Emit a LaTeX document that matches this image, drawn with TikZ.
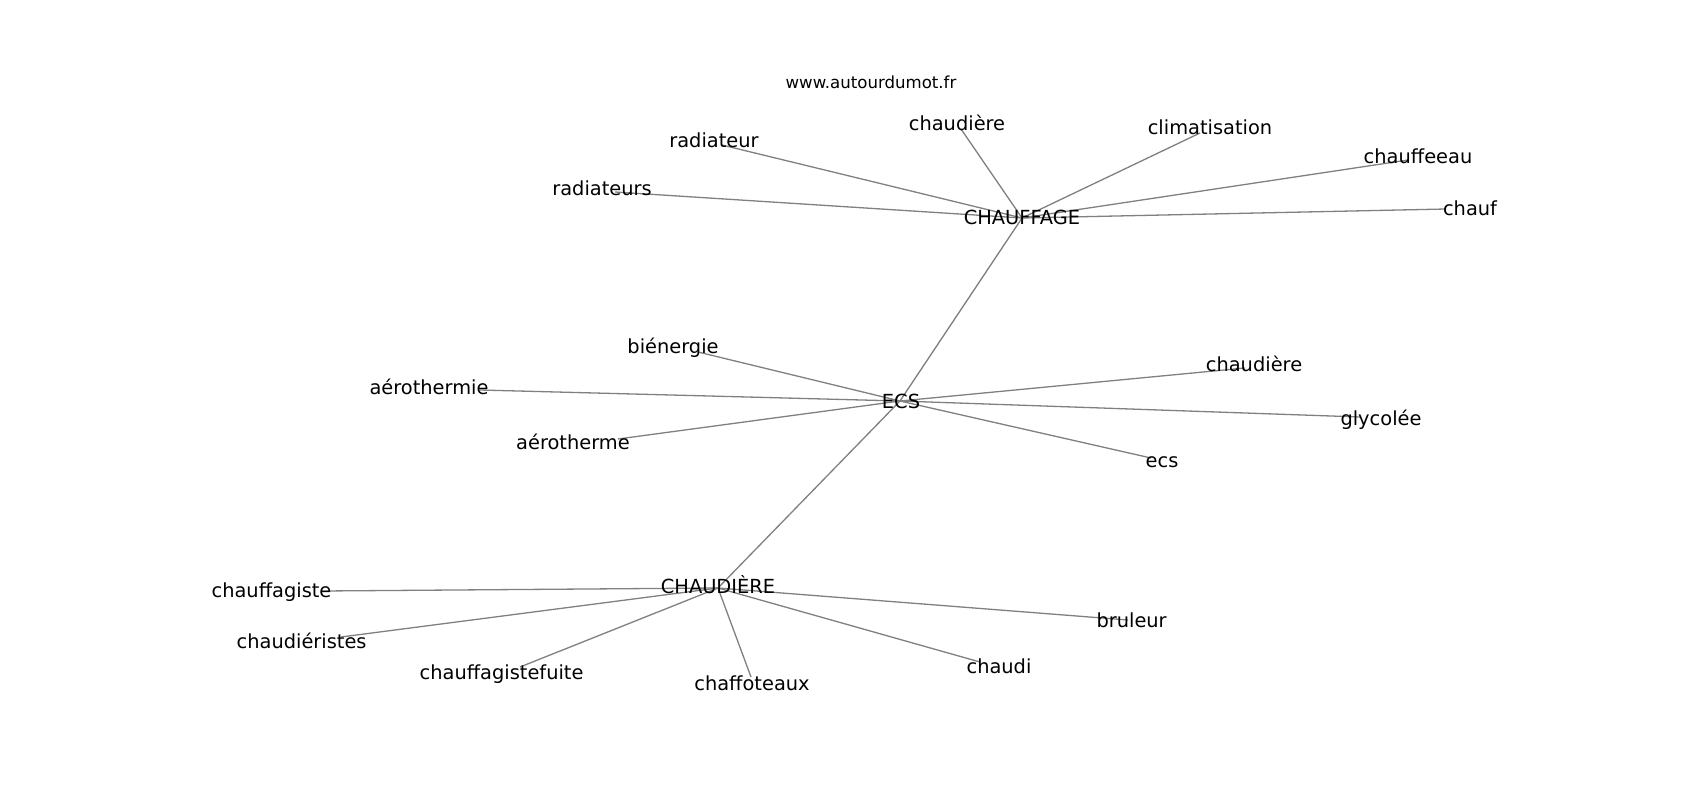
\documentclass[tikz,border=0pt]{standalone}
\usepackage{fontspec}
\setmainfont{DejaVu Sans}
\definecolor{edgegray}{RGB}{128,128,128}
\begin{document}
\begin{tikzpicture}[x=1bp,y=-1bp,
  edge/.style={draw=edgegray,line width=1.3bp},
  lbl/.style={anchor=base,inner sep=0pt,text=black,font=\fontsize{19.4bp}{23bp}\selectfont},
  ttl/.style={anchor=base,inner sep=0pt,text=black,font=\fontsize{16.6bp}{20bp}\selectfont}]
\fill[white] (0,0) rectangle (1700,800);
\useasboundingbox (0,0) rectangle (1700,800);
% graph vertices
\coordinate (H) at (1022,218);
\coordinate (E) at (900,401);
\coordinate (C) at (718,588);
\coordinate (h1) at (961,129);
\coordinate (h2) at (722,145);
\coordinate (h3) at (615,192);
\coordinate (h4) at (1200,133);
\coordinate (h5) at (1408,160);
\coordinate (h6) at (1446,209);
\coordinate (e1) at (698,352);
\coordinate (e2) at (480,390);
\coordinate (e3) at (618,439);
\coordinate (e4) at (1245,368);
\coordinate (e5) at (1360,417);
\coordinate (e6) at (1151,458);
\coordinate (c1) at (322,591);
\coordinate (c2) at (341,637);
\coordinate (c3) at (520,667);
\coordinate (c4) at (751,677);
\coordinate (c5) at (980,662);
\coordinate (c6) at (1128,620);
% connectors
\foreach \t in {h1,h2,h3,h4,h5,h6,E} \draw[edge] (H) -- (\t);
\foreach \t in {e1,e2,e3,e4,e5,e6,C} \draw[edge] (E) -- (\t);
\foreach \t in {c1,c2,c3,c4,c5,c6} \draw[edge] (C) -- (\t);
% labels
\node[ttl] (title) at (871,88) {www.autourdumot.fr};
\node[lbl] (lH) at (1022,224) {CHAUFFAGE};
\node[lbl] (lE) at (901,408) {ECS};
\node[lbl] (lC) at (718,593) {CHAUDIÈRE};
\node[lbl] (lh1) at (957,130) {chaudière};
\node[lbl] (lh2) at (714,147) {radiateur};
\node[lbl] (lh3) at (602,195) {radiateurs};
\node[lbl] (lh4) at (1210,134) {climatisation};
\node[lbl] (lh5) at (1418,163) {chauffeeau};
\node[lbl] (lh6) at (1470,215) {chauf};
\node[lbl] (le1) at (673,353) {biénergie};
\node[lbl] (le2) at (429,394) {aérothermie};
\node[lbl] (le3) at (573,449) {aérotherme};
\node[lbl] (le4) at (1254,371) {chaudière};
\node[lbl] (le5) at (1381,425) {glycolée};
\node[lbl] (le6) at (1162,467) {ecs};
\node[lbl] (lc1) at (271.5,597) {chauffagiste};
\node[lbl] (lc2) at (301.6,648) {chaudiéristes};
\node[lbl] (lc3) at (501.6,679) {chauffagistefuite};
\node[lbl] (lc4) at (752,690) {chaffoteaux};
\node[lbl] (lc5) at (999,673) {chaudi};
\node[lbl] (lc6) at (1131.6,627) {bruleur};
\end{tikzpicture}
\end{document}
